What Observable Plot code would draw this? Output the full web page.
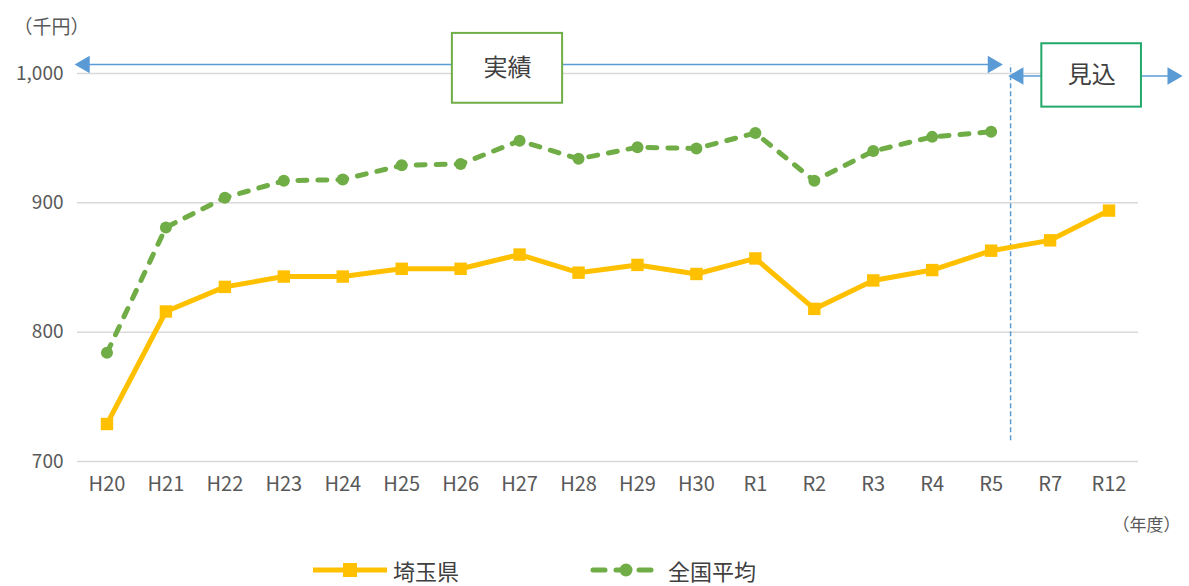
<!DOCTYPE html>
<html><head><meta charset="utf-8">
<script src="https://cdn.jsdelivr.net/npm/d3@7"></script>
<script src="https://cdn.jsdelivr.net/npm/@observablehq/plot@0.6"></script>
<style>
body{margin:0;background:#fff;font-family:"Noto Sans CJK JP","Noto Sans",sans-serif;}
#wrap{position:relative;width:1189px;height:586px;}
#legend{position:absolute;left:0;top:552px;width:1189px;height:36px;}
.item{position:absolute;top:0;height:36px;display:flex;align-items:center;font-size:22px;color:#404040;}
.item svg{margin-right:6px;}
</style></head><body>
<div id="wrap"><div id="chart"></div><div id="legend"></div></div>
<script>
const years = ["H20","H21","H22","H23","H24","H25","H26","H27","H28","H29","H30","R1","R2","R3","R4","R5","R7","R12"];
const saitama = [729,816,835,843,843,849,849,860,846,852,845,857,818,840,848,863,871,894];
const national = [784,881,904,917,918,929,930,948,934,943,942,954,917,940,951,955];
const yTicks = [700,800,900,1000];
const seriesNames = ["埼玉県","全国平均"];
const colors = {"埼玉県":"#FFC000","全国平均":"#70AD47"};
const periods = [
  {label:"実績", x1:5.86, x2:7.73, y1:977, y2:1031, stroke:"#70AD47", ax1:-0.48, ax2:15.13, ay:1007},
  {label:"見込", x1:15.86, x2:17.55, y1:974, y2:1023, stroke:"#22A86A", ax1:15.36, ax2:18.18, ay:998}
];
const divider = {x:15.33, y1:716, y2:1007};

const sData = saitama.map((v,i)=>({i, v}));
const nData = national.map((v,i)=>({i, v}));
const blue = "#5B9BD5";

const chart = Plot.plot({
  width:1189, height:552,
  marginLeft:77, marginRight:51, marginTop:73, marginBottom:91,
  style:{fontFamily:'"Noto Sans CJK JP","Noto Sans",sans-serif', color:"#595959", background:"#fff"},
  x:{type:"linear", domain:[-0.5, years.length-0.5]},
  y:{domain:[700,1000]},
  marks:[
    Plot.gridY(yTicks, {stroke:"#D9D9D9", strokeOpacity:1, strokeWidth:1.5}),
    Plot.axisY(yTicks, {tickFormat:d3.format(","), tickSize:0, tickPadding:14, label:null, fontSize:19, fill:"#595959"}),
    Plot.axisX(d3.range(years.length), {tickFormat:i=>years[i], tickSize:0, tickPadding:15, label:null, fontSize:20, fill:"#595959"}),
    // period arrows
    Plot.link(periods, {x1:"ax1", x2:"ax2", y1:"ay", y2:"ay", stroke:blue, strokeWidth:1.5}),
    Plot.dot(periods, {x:"ax1", y:"ay", symbol:"triangle", r:6.5, fill:blue, rotate:-90, dx:6}),
    Plot.dot(periods, {x:"ax2", y:"ay", symbol:"triangle", r:6.5, fill:blue, rotate:90, dx:-6}),
    Plot.ruleX([divider], {x:"x", y1:"y1", y2:"y2", stroke:blue, strokeWidth:1.5, strokeDasharray:"5,3"}),
    Plot.rect(periods, {x1:"x1", x2:"x2", y1:"y1", y2:"y2", fill:"white", stroke:"stroke", strokeWidth:2}),
    Plot.text(periods, {x:d=>(d.x1+d.x2)/2, y:d=>(d.y1+d.y2)/2, text:"label", fontSize:24, fill:"#404040"}),
    // series
    Plot.line(nData, {x:"i", y:"v", stroke:colors["全国平均"], strokeWidth:5, strokeDasharray:"9,11", strokeLinecap:"round"}),
    Plot.dot(nData, {x:"i", y:"v", r:6, fill:colors["全国平均"], symbol:"circle"}),
    Plot.line(sData, {x:"i", y:"v", stroke:colors["埼玉県"], strokeWidth:5}),
    Plot.dot(sData, {x:"i", y:"v", r:7, fill:colors["埼玉県"], symbol:"square"}),
    // unit labels
    Plot.text(["（千円）"], {frameAnchor:"top-left", dx:-64, dy:-53, textAnchor:"start", fontSize:19, fill:"#595959"}),
    Plot.text(["（年度）"], {frameAnchor:"bottom-right", dx:42, dy:69, textAnchor:"end", fontSize:17, fill:"#595959"})
  ]
});
document.getElementById("chart").appendChild(chart);

const legend = document.getElementById("legend");
const items = [
  {name:seriesNames[0], left:313, svg:`<svg width="74" height="18"><line x1="0" y1="9" x2="74" y2="9" stroke="${colors["埼玉県"]}" stroke-width="5"/><rect x="30" y="2" width="14" height="14" fill="${colors["埼玉県"]}"/></svg>`},
  {name:seriesNames[1], left:590, svg:`<svg width="72" height="18"><line x1="3" y1="9" x2="69" y2="9" stroke="${colors["全国平均"]}" stroke-width="5" stroke-dasharray="12,11" stroke-linecap="round"/><circle cx="36" cy="9" r="6.5" fill="${colors["全国平均"]}"/></svg>`}
];
for (const it of items) {
  const d = document.createElement("div");
  d.className = "item";
  d.style.left = it.left + "px";
  d.innerHTML = it.svg + `<span>${it.name}</span>`;
  legend.appendChild(d);
}
</script>
</body></html>
